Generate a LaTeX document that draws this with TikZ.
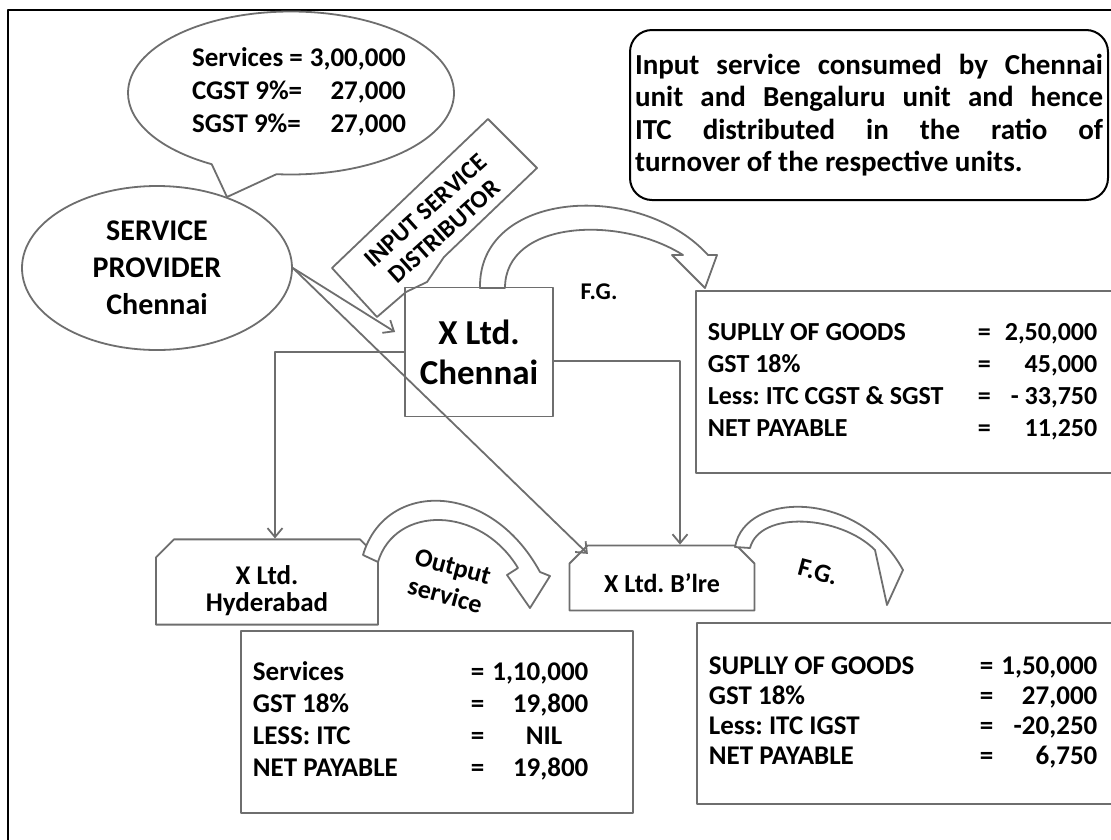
\documentclass[tikz,border=0pt]{standalone}
\usepackage{fontspec}
\setmainfont{Carlito}
\usepackage{array}
\usepackage{tikz}
\usetikzlibrary{shapes.geometric,shapes.callouts,shapes.misc,arrows.meta,positioning}
\definecolor{lngray}{RGB}{110,110,110}
\newcommand{\fs}[2]{\fontsize{#1}{#2}\selectfont\bfseries}
\newcolumntype{L}[1]{>{\raggedright\arraybackslash}p{#1}}
\frenchspacing

\begin{document}
\begin{tikzpicture}[x=1pt, y=-1pt, line join=round, every node/.append style={execute at begin node={\spaceskip=0pt\xspaceskip=0pt}}, gline/.style={draw=lngray, line width=1.8pt}, box/.style={gline, rectangle, inner sep=0pt, align=center}, snip/.style={gline, fill=white, chamfered rectangle, chamfered rectangle corners={north west,north east}, chamfered rectangle xsep=9pt, chamfered rectangle ysep=9pt, inner sep=0pt, align=center}, res/.style={gline, rectangle, anchor=north west, inner xsep=12pt, inner ysep=0pt, align=left}, arr/.style={gline, -{Straight Barb[length=9pt,width=15pt]}}, blockarr/.style={gline, fill=white}]
\useasboundingbox (0,0) rectangle (1111,839);
\clip (0,0) rectangle (1111,839);
\draw[line width=2.8pt] (8,10) rectangle (1130,860);
% service provider and its bill
\coordinate (tail) at (227,197);
\node[ellipse callout, gline, fill=white, minimum width=326pt, minimum height=163pt, callout absolute pointer=(tail), callout pointer arc=24, inner sep=0pt, font=\fs{27}{33}] (bill) at (291,93) {\hspace*{16pt}\begin{tabular}{@{}l@{\hspace{7pt}}r@{}}Services = & 3,00,000\\ CGST 9\%= & 27,000\\ SGST 9\%= & 27,000\end{tabular}};
\node[ellipse, gline, fill=white, minimum width=270pt, minimum height=164pt, inner sep=0pt, align=center, font=\fs{30}{37}] (sp) at (157,268) {SERVICE\\PROVIDER\\Chennai};
% ISD banner
\draw[gline, fill=white] (332,268) -- (377,317) -- (406,292) -- (427,282) -- (444,257) -- (537,168) -- (488,119) -- cycle;
\node[rotate=42, align=center, font=\fs{25}{28}] (isd) at (435,221) {INPUT SERVICE\\DISTRIBUTOR};
% units
\node[box, minimum width=148pt, minimum height=129pt, font=\fs{35}{40}] (chn) at (479,352) {X Ltd.\\Chennai};
\node[snip, minimum width=222pt, minimum height=75pt, font=\fs{27}{27}] (hyd) at (267,582) {\rule{0pt}{36pt}X Ltd.\\Hyderabad};
\node[snip, minimum width=185pt, minimum height=65pt, font=\fs{26}{30}] (blr) at (662,578) {\rule{0pt}{30pt}X Ltd. B'lre};
\draw[arr] (chn.west) -| ([xshift=8pt]hyd.north);
\draw[arr] ([yshift=-9pt]chn.east) -| ([xshift=18pt]blr.north);
\draw[arr] (sp.east) -- ([xshift=-9pt,yshift=20pt]chn.west);
\draw[arr] (sp.east) -- ([xshift=10pt]blr.north west);
% note
\node[draw, line width=2pt, rounded corners=22pt, minimum width=478pt, minimum height=170pt, text width=468pt, align=justify, inner sep=0pt, font=\fs{29}{32.5}] (note) at (869,115) {Input service consumed by Chennai\linebreak unit and Bengaluru unit and hence\linebreak ITC distributed in the ratio of\linebreak turnover of the respective units.};
% returns
\node[res, minimum width=440pt, minimum height=182pt, text width=416pt, font=\fs{26}{32}] (chnret) at (695,290) {\begin{tabular}{@{}L{270pt}@{}c@{\hspace{14pt}}r@{}}SUPLLY OF GOODS & = & 2,50,000\\ GST 18\% & = & 45,000\\ Less: ITC CGST \& SGST & = & - 33,750\\ NET PAYABLE & = & 11,250\end{tabular}};
\node[res, minimum width=392pt, minimum height=182pt, text width=368pt, font=\fs{27}{32}] (hydret) at (240,630) {\begin{tabular}{@{}L{218pt}@{}c@{\hspace{8pt}}r@{}}Services & = & 1,10,000\\ GST 18\% & = & 19,800\\ LESS: ITC & = & NIL\kern26pt\\ NET PAYABLE & = & 19,800\end{tabular}};
\node[res, minimum width=440pt, minimum height=181pt, text width=416pt, font=\fs{27}{30}] (blrret) at (696,622) {\begin{tabular}{@{}L{271pt}@{}c@{\hspace{8pt}}r@{}}SUPLLY OF GOODS & = & 1,50,000\\ GST 18\% & = & 27,000\\ Less: ITC IGST & = & -20,250\\ NET PAYABLE & = & 6,750\end{tabular}};
% bent arrows
\draw[blockarr] (480,288) .. controls (478,190) and (640,180) .. (708,255) -- (717,255) -- (705,288) -- (672,255) -- (683,255) .. controls (620,215) and (505,220) .. (505,288) -- cycle;
\draw[blockarr] (363,555) .. controls (385,480) and (490,480) .. (540,572) -- (550,576) -- (530,608) -- (507,575) -- (518,568) .. controls (480,505) and (395,505) .. (378,562) -- cycle;
\draw[blockarr] (735,547) .. controls (745,490) and (860,490) .. (903,570) -- (887,605) -- (875,550) .. controls (840,515) and (760,510) .. (750,548) -- cycle;
\node[font=\fs{24}{28}] (fgchn) at (599,292) {F.G.};
\node[rotate=-15, font=\fs{26}{30}] (fgblr) at (818,572) {F.G.};
\node[rotate=-15, align=center, font=\fs{26}{30}] (outsv) at (449,581) {Output\\service};
\end{tikzpicture}
\end{document}
